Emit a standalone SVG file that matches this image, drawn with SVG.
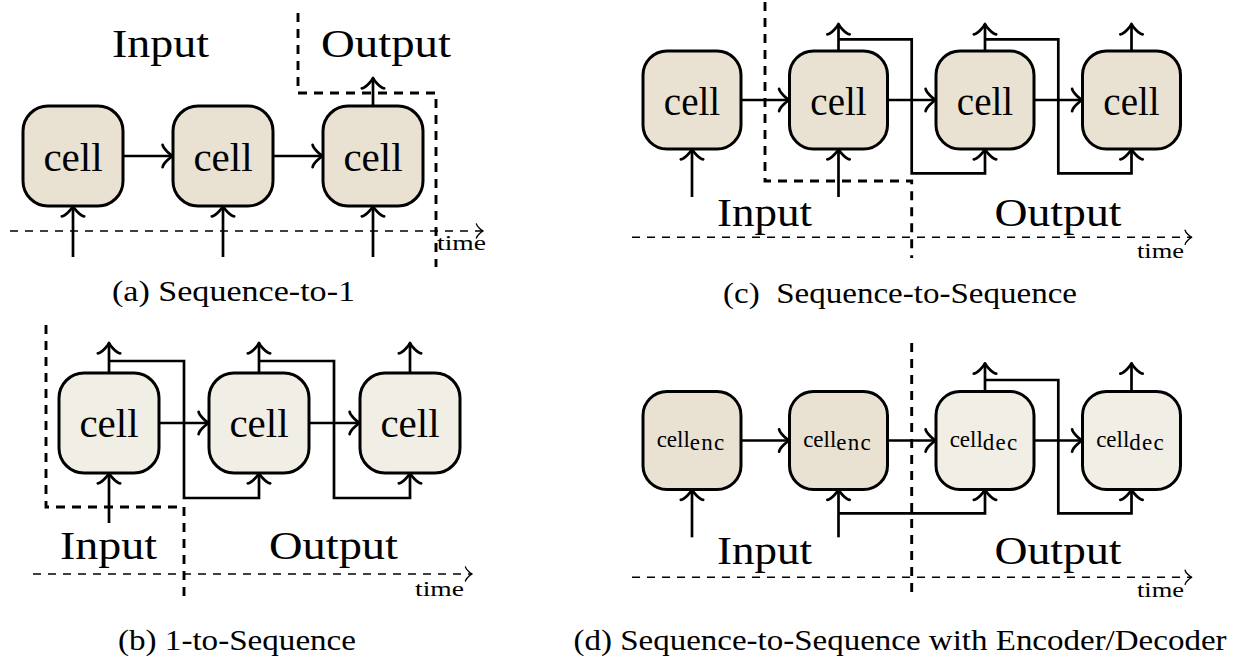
<svg xmlns="http://www.w3.org/2000/svg" width="1241" height="663" viewBox="0 0 1241 663" font-family="'Liberation Serif', 'DejaVu Serif', 'Noto Serif', serif">
  <defs>
    <style>
      .cell-a { fill: #e9e2d2; stroke: #000; stroke-width: 3; }
      .cell-b { fill: #f1eee5; stroke: #000; stroke-width: 3; }
      .wire { fill: none; stroke: #000; stroke-width: 2.7; }
      .arr { marker-end: url(#to); }
      .split { fill: none; stroke: #000; stroke-width: 2.9; stroke-dasharray: 9 7; }
      .axis { fill: none; stroke: #000; stroke-width: 1.4; stroke-dasharray: 8 7; marker-end: url(#to-thin); }
      text { font-family: 'Liberation Serif', 'DejaVu Serif', 'Noto Serif', serif; fill: #000; }
      .big { font-size: 40px; text-anchor: middle; }
      .lbl { font-size: 41px; text-anchor: middle; }
      .lbl-s { font-size: 39px; text-anchor: middle; }
      .lbl-sub { font-size: 23px; text-anchor: middle; }
      .sub { letter-spacing: 1.2px; }
      .time { font-size: 21px; }
      .cap { font-size: 30px; text-anchor: middle; }
    </style>
    <!-- curved open arrow tip, tip at the path end -->
    <marker id="to" markerUnits="userSpaceOnUse" orient="auto" viewBox="-15 -15 30 30" markerWidth="30" markerHeight="30" refX="0" refY="0" overflow="visible">
      <path d="M-10.4,-11.2 C-9.7,-7 -2,-0.7 0,0 C-2,0.7 -9.7,7 -10.4,11.2" fill="none" stroke="#000" stroke-width="2.7" stroke-linecap="round" stroke-linejoin="round"/>
    </marker>
    <marker id="to-thin" markerUnits="userSpaceOnUse" orient="auto" viewBox="-10 -10 20 20" markerWidth="20" markerHeight="20" refX="0" refY="0" overflow="visible">
      <path d="M-6.55,-7 C-6.1,-4.4 -1.3,-0.44 0,0 C-1.3,0.44 -6.1,4.4 -6.55,7" fill="none" stroke="#000" stroke-width="1.4" stroke-linecap="round" stroke-linejoin="round"/>
    </marker>
  </defs>
  <rect width="1241" height="663" fill="#fff"/>

  <!-- (a) Sequence-to-1 -->
  <g id="panel-a">
    <g id="a-connectors">
      <path class="axis" d="M10,231 H483"/>
      <path class="split" d="M298,13 V93 H436 V267"/>
      <path class="wire arr" d="M123,156 H173"/>
      <path class="wire arr" d="M273,156 H323"/>
      <path class="wire arr" d="M73,257 V206"/>
      <path class="wire arr" d="M223,257 V206"/>
      <path class="wire arr" d="M373,257 V206"/>
      <path class="wire arr" d="M373,106 V78"/>
    </g>
    <g id="a-cell1"><rect class="cell-a" x="23" y="106" width="100" height="100" rx="25"/><text class="lbl" x="73" y="171">cell</text></g>
    <g id="a-cell2"><rect class="cell-a" x="173" y="106" width="100" height="100" rx="25"/><text class="lbl" x="223" y="171">cell</text></g>
    <g id="a-cell3"><rect class="cell-a" x="323" y="106" width="100" height="100" rx="25"/><text class="lbl" x="373" y="171">cell</text></g>
    <text class="big" x="160.5" y="57" textLength="97" lengthAdjust="spacingAndGlyphs">Input</text>
    <text class="big" x="386" y="57" textLength="130" lengthAdjust="spacingAndGlyphs">Output</text>
    <text class="time" x="437" y="250" textLength="49" lengthAdjust="spacingAndGlyphs">time</text>
    <text class="cap" x="233.5" y="301" textLength="243" lengthAdjust="spacingAndGlyphs">(a) Sequence-to-1</text>
  </g>

  <!-- (b) 1-to-Sequence -->
  <g id="panel-b">
    <g id="b-connectors">
      <path class="axis" d="M33,574 H472"/>
      <path class="split" d="M46,325 V507 H184 V598"/>
      <path class="wire arr" d="M159,423 H209"/>
      <path class="wire arr" d="M309,423 H360"/>
      <path class="wire arr" d="M109,373 V343"/>
      <path class="wire arr" d="M259,373 V343"/>
      <path class="wire arr" d="M410,373 V343"/>
      <path class="wire arr" d="M109,361 H184 V498 H259 V473"/>
      <path class="wire arr" d="M259,361 H334 V498 H410 V473"/>
      <path class="wire arr" d="M109,523 V473"/>
    </g>
    <g id="b-cell1"><rect class="cell-b" x="59" y="373" width="100" height="100" rx="25"/><text class="lbl" x="109" y="437">cell</text></g>
    <g id="b-cell2"><rect class="cell-b" x="209" y="373" width="100" height="100" rx="25"/><text class="lbl" x="259" y="437">cell</text></g>
    <g id="b-cell3"><rect class="cell-b" x="360" y="373" width="100" height="100" rx="25"/><text class="lbl" x="410" y="437">cell</text></g>
    <text class="big" x="108.5" y="559" textLength="97" lengthAdjust="spacingAndGlyphs">Input</text>
    <text class="big" x="333.5" y="559" textLength="129" lengthAdjust="spacingAndGlyphs">Output</text>
    <text class="time" x="415" y="596" textLength="49" lengthAdjust="spacingAndGlyphs">time</text>
    <text class="cap" x="237" y="650" textLength="238" lengthAdjust="spacingAndGlyphs">(b) 1-to-Sequence</text>
  </g>

  <!-- (c) Sequence-to-Sequence -->
  <g id="panel-c">
    <g id="c-connectors">
      <path class="axis" d="M632,237.3 H1191.7"/>
      <path class="split" d="M765,2 V181 H911.7 V258"/>
      <path class="wire arr" d="M741,100 H789.5"/>
      <path class="wire arr" d="M887.5,100 H936"/>
      <path class="wire arr" d="M1034,100 H1082.5"/>
      <path class="wire arr" d="M838.5,51 V24"/>
      <path class="wire arr" d="M985,51 V24"/>
      <path class="wire arr" d="M1131.5,51 V24"/>
      <path class="wire arr" d="M838.5,39.3 H911.7 V173.3 H985 V149"/>
      <path class="wire arr" d="M985,39.3 H1058.3 V173.3 H1131.5 V149"/>
      <path class="wire arr" d="M692,197 V149"/>
      <path class="wire arr" d="M838.5,197 V149"/>
    </g>
    <g id="c-cell1"><rect class="cell-a" x="643" y="51" width="98" height="98" rx="24"/><text class="lbl-s" x="692" y="115">cell</text></g>
    <g id="c-cell2"><rect class="cell-a" x="789.5" y="51" width="98" height="98" rx="24"/><text class="lbl-s" x="838.5" y="115">cell</text></g>
    <g id="c-cell3"><rect class="cell-a" x="936" y="51" width="98" height="98" rx="24"/><text class="lbl-s" x="985" y="115">cell</text></g>
    <g id="c-cell4"><rect class="cell-a" x="1082.5" y="51" width="98" height="98" rx="24"/><text class="lbl-s" x="1131.5" y="115">cell</text></g>
    <text class="big" x="764.5" y="226" textLength="95" lengthAdjust="spacingAndGlyphs">Input</text>
    <text class="big" x="1058" y="226" textLength="127" lengthAdjust="spacingAndGlyphs">Output</text>
    <text class="time" x="1137" y="258" textLength="47" lengthAdjust="spacingAndGlyphs">time</text>
    <text class="cap" x="900" y="303" textLength="354" lengthAdjust="spacingAndGlyphs" xml:space="preserve">(c)  Sequence-to-Sequence</text>
  </g>

  <!-- (d) Sequence-to-Sequence with Encoder/Decoder -->
  <g id="panel-d">
    <g id="d-connectors">
      <path class="axis" d="M632,577.3 H1191.7"/>
      <path class="split" d="M911.7,343 V598"/>
      <path class="wire arr" d="M741,440.5 H789.5"/>
      <path class="wire arr" d="M887.5,440.5 H936"/>
      <path class="wire arr" d="M1034,440.5 H1082.5"/>
      <path class="wire arr" d="M985,391.5 V363.3"/>
      <path class="wire arr" d="M1131.5,391.5 V363.3"/>
      <path class="wire arr" d="M985,380 H1058.3 V513.3 H1131.5 V489.5"/>
      <path class="wire arr" d="M838.5,513.3 H985 V489.5"/>
      <path class="wire arr" d="M692,537.3 V489.5"/>
      <path class="wire arr" d="M838.5,537.3 V489.5"/>
    </g>
    <g id="d-enc1"><rect class="cell-a" x="643" y="391.5" width="98" height="98" rx="24"/><text class="lbl-sub" x="691" y="446.5">cell<tspan class="sub" dy="3">enc</tspan></text></g>
    <g id="d-enc2"><rect class="cell-a" x="789.5" y="391.5" width="98" height="98" rx="24"/><text class="lbl-sub" x="837.5" y="446.5">cell<tspan class="sub" dy="3">enc</tspan></text></g>
    <g id="d-dec1"><rect class="cell-b" x="936" y="391.5" width="98" height="98" rx="24"/><text class="lbl-sub" x="984" y="446.5">cell<tspan class="sub" dy="3">dec</tspan></text></g>
    <g id="d-dec2"><rect class="cell-b" x="1082.5" y="391.5" width="98" height="98" rx="24"/><text class="lbl-sub" x="1130.5" y="446.5">cell<tspan class="sub" dy="3">dec</tspan></text></g>
    <text class="big" x="764.5" y="564" textLength="95" lengthAdjust="spacingAndGlyphs">Input</text>
    <text class="big" x="1058" y="564" textLength="127" lengthAdjust="spacingAndGlyphs">Output</text>
    <text class="time" x="1137" y="597" textLength="47" lengthAdjust="spacingAndGlyphs">time</text>
    <text class="cap" x="900" y="650" textLength="653" lengthAdjust="spacingAndGlyphs">(d) Sequence-to-Sequence with Encoder/Decoder</text>
  </g>
</svg>
